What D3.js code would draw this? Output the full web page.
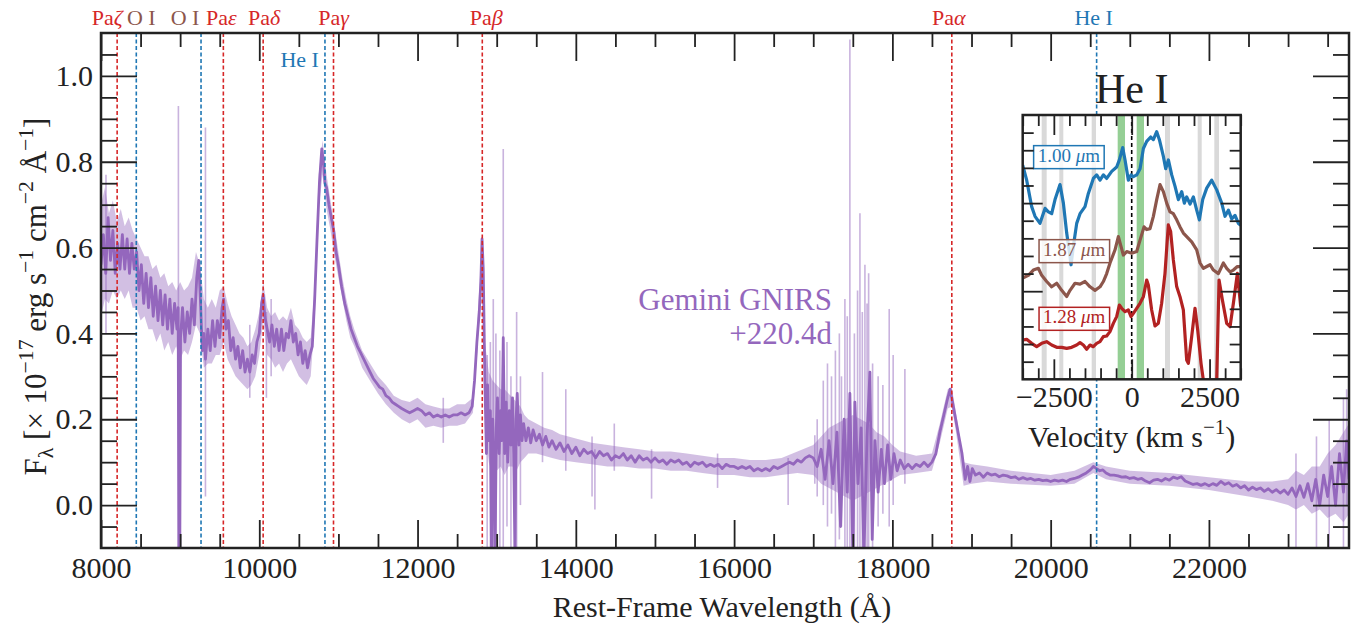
<!DOCTYPE html>
<html>
<head>
<meta charset="utf-8">
<script src="https://cdn.jsdelivr.net/npm/d3@7"></script>
<style>
body { margin: 0; background: #fff; }
svg { display: block; }
</style>
</head>
<body>
<div id="chart"></div>
<script>
// ---- main spectrum, binned (dark line): [wavelength Å, flux]
const binned = [
[8000,.56],[8030,.63],[8060,.54],[8090,.67],[8120,.57],[8150,.64],[8180,.54],[8210,.61],[8240,.55],[8270,.63],
[8300,.55],[8330,.62],[8360,.54],[8390,.61],[8420,.55],[8450,.59],[8480,.50],[8510,.56],[8540,.47],[8570,.54],
[8600,.46],[8630,.53],[8660,.44],[8690,.51],[8720,.43],[8750,.50],[8780,.42],[8810,.49],[8840,.41],[8870,.48],
[8900,.40],[8930,.47],[8960,.41],[8975,.46],[8985,-.15],[8995,-.15],[9005,.39],[9030,.46],[9060,.38],[9090,.45],
[9120,.40],[9150,.48],[9180,.42],[9210,.53],[9235,.57],[9260,.46],[9280,.36],[9300,.40],[9320,.34],[9350,.41],
[9380,.36],[9410,.43],[9440,.37],[9470,.43],[9500,.39],[9530,.46],[9550,.48],[9580,.41],[9610,.43],[9640,.36],
[9670,.39],[9700,.34],[9730,.37],[9760,.32],[9790,.36],[9820,.31],[9850,.34],[9880,.31],[9910,.35],[9940,.33],
[9970,.38],[10000,.40],[10030,.47],[10050,.49],[10070,.44],[10100,.41],[10130,.38],[10160,.42],[10190,.37],[10220,.41],
[10250,.36],[10280,.41],[10310,.36],[10340,.40],[10370,.39],[10400,.43],[10430,.38],[10460,.40],[10490,.35],[10520,.38],
[10550,.33],[10580,.36],[10610,.32],[10640,.35],[10670,.37],[10700,.48],[10730,.62],[10760,.75],[10790,.83],[10810,.80],
[10830,.75],[10850,.74],[10880,.70],[10910,.67],[10940,.64],[10970,.59],[11000,.56],[11040,.51],[11080,.47],[11120,.44],
[11160,.41],[11200,.39],[11240,.37],[11280,.355],[11320,.34],[11360,.325],[11400,.31],[11440,.295],[11480,.285],[11520,.275],
[11560,.27],[11600,.255],[11640,.25],[11680,.24],[11720,.235],[11760,.23],[11800,.225],[11850,.22],[11900,.215],[11950,.22],
[12000,.225],[12050,.22],[12100,.21],[12150,.215],[12200,.205],[12250,.21],[12300,.205],[12350,.21],[12400,.205],[12450,.21],
[12500,.21],[12550,.215],[12600,.21],[12650,.215],[12690,.23],[12720,.29],[12750,.38],[12780,.45],[12800,.52],[12815,.62],
[12830,.55],[12850,.30],[12870,.12],[12885,.28],[12900,.15],[12920,.22],[12935,-.12],[12950,.20],[12965,.10],[12980,-.12],
[12995,.18],[13010,.25],[13030,.12],[13050,.22],[13065,.15],[13083,.39],[13100,.12],[13120,.24],[13140,.10],[13160,.22],
[13180,.14],[13200,.25],[13215,.12],[13231,-.12],[13245,.20],[13260,.26],[13280,.14],[13300,.21],[13320,.15],[13340,.19],
[13370,.15],[13400,.18],[13430,.145],[13460,.175],[13500,.15],[13540,.165],[13580,.14],[13620,.16],[13660,.135],[13700,.15],
[13750,.13],[13800,.145],[13850,.125],[13900,.14],[13950,.12],[14000,.135],[14050,.115],[14100,.13],[14150,.12],[14200,.125],
[14250,.11],[14300,.125],[14350,.115],[14400,.12],[14450,.105],[14500,.115],[14550,.11],[14600,.12],[14650,.105],[14700,.115],
[14750,.10],[14800,.115],[14850,.105],[14900,.11],[14950,.10],[15000,.11],[15050,.10],[15100,.105],[15150,.095],[15200,.105],
[15250,.10],[15300,.105],[15350,.095],[15400,.10],[15450,.09],[15500,.10],[15550,.095],[15600,.10],[15650,.09],[15700,.095],
[15750,.09],[15800,.095],[15850,.085],[15900,.095],[15950,.09],[16000,.09],[16050,.085],[16100,.09],[16150,.085],[16200,.09],
[16250,.08],[16300,.085],[16350,.08],[16400,.085],[16450,.08],[16500,.09],[16550,.085],[16600,.09],[16650,.095],[16700,.10],
[16750,.095],[16800,.105],[16850,.10],[16900,.11],[16950,.115],[17000,.11],[17050,.09],[17100,.13],[17150,.06],[17200,.15],
[17250,.05],[17300,.17],[17345,-.05],[17390,.20],[17430,.03],[17463,.26],[17500,-.12],[17526,.24],[17565,.05],[17605,.18],
[17640,-.12],[17680,.16],[17716,.31],[17745,-.08],[17780,.15],[17820,.03],[17860,.13],[17900,.05],[17940,.14],[17980,.06],
[18020,.12],[18060,.08],[18100,.105],[18150,.085],[18200,.095],[18250,.085],[18300,.095],[18350,.09],[18400,.10],[18450,.09],
[18500,.10],[18550,.12],[18600,.17],[18650,.21],[18700,.25],[18730,.27],[18760,.24],[18800,.20],[18840,.16],[18880,.12],
[18920,.06],[18950,.09],[18980,.055],[19010,.085],[19050,.07],[19100,.075],[19150,.065],[19200,.075],[19250,.07],[19300,.072],
[19350,.066],[19400,.07],[19450,.068],[19500,.064],[19550,.066],[19600,.06],[19650,.064],[19700,.06],[19750,.062],[19800,.058],
[19850,.06],[19900,.057],[19950,.058],[20000,.055],[20050,.058],[20100,.056],[20150,.058],[20200,.055],[20250,.06],[20300,.062],
[20350,.065],[20400,.07],[20450,.075],[20500,.082],[20540,.09],[20580,.085],[20620,.08],[20660,.082],[20700,.075],[20750,.07],
[20800,.07],[20850,.068],[20900,.065],[20950,.066],[21000,.062],[21050,.064],[21100,.06],[21150,.062],[21200,.056],[21250,.052],
[21300,.058],[21350,.06],[21400,.056],[21450,.062],[21500,.058],[21550,.065],[21600,.062],[21650,.066],[21700,.056],[21750,.052],
[21800,.048],[21850,.05],[21900,.046],[21950,.05],[22000,.045],[22050,.05],[22100,.046],[22150,.055],[22200,.048],[22250,.052],
[22300,.044],[22350,.048],[22400,.04],[22450,.045],[22500,.035],[22550,.042],[22600,.036],[22650,.04],[22700,.032],[22750,.038],
[22800,.03],[22850,.036],[22900,.028],[22950,.035],[23000,.025],[23050,.04],[23100,.02],[23150,.045],[23200,.018],[23250,.05],
[23300,.01],[23350,.06],[23400,.0],[23450,.07],[23500,.02],[23550,.09],[23600,.0],[23650,.12],[23700,.03],[23740,.15],[23770,.06]
];

// ---- raw spectrum (light): [wavelength Å, low flux, high flux]
const raw = [
[8000,.44,.70],[8050,.48,.74],[8100,.47,.68],[8150,.50,.71],[8200,.48,.66],[8250,.50,.69],[8300,.48,.65],[8350,.50,.67],
[8400,.46,.64],[8450,.46,.62],[8500,.43,.60],[8550,.44,.58],[8600,.41,.58],[8650,.41,.55],[8700,.38,.56],[8750,.40,.53],
[8800,.36,.54],[8850,.38,.51],[8900,.35,.52],[8950,.37,.50],[9000,.34,.52],[9050,.36,.50],[9100,.35,.51],[9150,.38,.53],
[9200,.42,.59],[9250,.40,.56],[9300,.32,.48],[9350,.33,.46],[9400,.33,.48],[9450,.35,.46],[9500,.35,.50],[9550,.38,.51],
[9600,.34,.47],[9650,.32,.44],[9700,.30,.42],[9750,.29,.40],[9800,.28,.39],[9850,.27,.37],[9900,.28,.38],[9950,.30,.41],
[10000,.35,.45],[10050,.43,.52],[10100,.35,.46],[10150,.34,.44],[10200,.32,.45],[10250,.33,.43],[10300,.31,.44],[10350,.33,.43],
[10400,.34,.46],[10450,.32,.42],[10500,.30,.41],[10550,.29,.39],[10600,.28,.38],[10650,.30,.39],[10700,.43,.51],[10750,.69,.77],
[10800,.77,.85],[10850,.69,.77],[10900,.64,.71],[10950,.58,.65],[11000,.53,.59],[11050,.48,.53],[11100,.43,.48],[11150,.39,.44],
[11200,.37,.41],[11300,.32,.36],[11400,.29,.33],[11500,.26,.30],[11600,.235,.28],[11700,.215,.255],[11800,.20,.245],[11900,.19,.24],
[12000,.20,.25],[12100,.18,.235],[12200,.185,.23],[12300,.18,.225],[12400,.185,.225],[12500,.185,.235],[12600,.19,.235],[12700,.215,.25],
[12750,.34,.41],[12800,.49,.57],[12820,.56,.63],[12850,.18,.38],[12900,.10,.31],[12950,.07,.29],[13000,.08,.28],[13050,.09,.27],
[13100,.07,.27],[13150,.09,.26],[13200,.09,.25],[13250,.08,.24],[13300,.10,.23],[13350,.11,.21],[13400,.12,.20],[13500,.12,.19],
[13600,.115,.18],[13700,.11,.175],[13800,.105,.165],[14000,.10,.155],[14200,.095,.145],[14400,.09,.14],[14600,.09,.135],[14800,.085,.13],
[15000,.085,.125],[15200,.08,.125],[15400,.08,.12],[15600,.075,.115],[15800,.07,.11],[16000,.07,.11],[16200,.065,.105],[16400,.065,.105],
[16600,.07,.11],[16800,.075,.125],[17000,.07,.14],[17100,.05,.16],[17200,.04,.18],[17300,.03,.19],[17400,.02,.20],[17500,.01,.21],
[17600,.02,.20],[17700,.03,.19],[17800,.04,.17],[17900,.05,.16],[18000,.06,.14],[18100,.07,.125],[18300,.075,.115],[18500,.08,.12],
[18600,.145,.19],[18700,.225,.27],[18750,.23,.275],[18800,.175,.22],[18900,.045,.10],[19000,.05,.095],[19200,.055,.09],[19500,.05,.08],
[20000,.045,.07],[20300,.05,.08],[20540,.075,.10],[20700,.06,.09],[21000,.05,.08],[21500,.045,.075],[22000,.035,.065],[22500,.02,.055],
[22800,.01,.055],[23000,.0,.06],[23100,-.01,.08],[23200,.0,.07],[23300,-.02,.09],[23400,-.01,.09],[23500,-.03,.12],[23600,-.02,.14],
[23700,-.04,.17],[23770,-.02,.19]
];

// isolated spikes in the raw spectrum: [wavelength Å, low, high]
const spikes = [
[8063,.40,.77],[8978,-.12,.93],[9320,.02,.88],[9880,.25,.42],[10090,.25,.45],[10150,.30,.48],[12325,.145,.25],
[12880,-.1,.35],[12920,-.1,.38],[12957,-.1,.48],[12990,-.08,.40],[13040,-.1,.36],[13083,-.12,.83],[13130,-.05,.38],
[13180,-.1,.30],[13252,-.1,.45],[13300,.0,.30],[13579,.1,.31],[13873,.08,.27],[14205,.02,.16],[14241,-.01,.13],
[14486,.08,.19],[14957,.015,.13],[15791,.04,.12],[16683,.0,.11],[17020,.05,.163],[17050,.02,.20],[17127,.0,.29],
[17180,-.05,.33],[17231,-.02,.30],[17280,-.1,.36],[17330,-.08,.40],[17357,-.05,.30],[17400,-.1,.48],[17430,-.1,.44],
[17463,-.12,1.085],[17520,-.1,.40],[17560,-.1,.50],[17590,-.12,.68],[17620,-.1,.45],[17653,-.1,.56],[17680,-.1,.47],
[17700,-.12,.54],[17750,-.1,.33],[17820,-.05,.30],[17880,-.02,.28],[17960,-.05,.457],[18010,.0,.35],[18158,.05,.317],
[23100,-.1,.12],[23359,-.12,.16],[23520,-.12,.20],[23700,-.12,.25],[23740,.0,.27]
];

// line identifications
const lineNames = ["Pa|ζ", "O I", "O I", "Pa|ε", "Pa|δ", "He I", "Pa|γ", "Pa|β", "Pa|α", "He I"];
const lineWaves = [8204, 8446, 9264, 9546, 10049, 10830, 10938, 12818, 18751, 20581];
const lineKinds = ["pa", "oi", "oi", "pa", "pa", "he", "pa", "pa", "pa", "he"];

// main axis ticks
const xMajor = [8000, 10000, 12000, 14000, 16000, 18000, 20000, 22000];
const yMajor = [0.0, 0.2, 0.4, 0.6, 0.8, 1.0];

// ---- inset: He I velocity profiles [km/s, scaled flux]
const velBlue = [[-3500,2.43],[-3372,2.26],[-3212,1.96],[-3104,1.85],[-2944,1.77],[-2783,1.94],[-2676,1.90],[-2569,1.88],[-2462,2.04],[-2302,2.21],[-2194,2.00],[-2087,1.66],[-1980,1.39],[-1948,1.30],[-1873,1.51],[-1766,1.77],[-1659,1.88],[-1499,1.96],[-1392,2.11],[-1231,2.28],[-1124,2.32],[-1017,2.26],[-910,2.32],[-803,2.28],[-642,2.36],[-482,2.41],[-396,2.49],[-289,2.63],[-214,2.49],[-107,2.26],[-21,2.32],[54,2.30],[161,2.32],[268,2.39],[375,2.62],[482,2.70],[610,2.75],[696,2.72],[803,2.81],[889,2.72],[1017,2.53],[1092,2.39],[1178,2.49],[1285,2.32],[1392,2.19],[1499,2.04],[1606,2.13],[1691,2.00],[1766,2.07],[1873,1.99],[1980,2.07],[2087,1.92],[2173,1.81],[2280,2.04],[2409,2.17],[2569,2.26],[2730,2.15],[2890,2.00],[2997,1.85],[3104,1.92],[3212,1.82],[3318,1.86],[3425,1.77],[3500,1.75]];
const velBrown = [[-3500,1.15],[-3319,1.18],[-3158,1.24],[-2997,1.26],[-2890,1.18],[-2730,1.11],[-2569,1.05],[-2409,1.09],[-2248,1.01],[-2087,0.94],[-1980,1.01],[-1820,1.09],[-1659,1.08],[-1499,1.11],[-1338,1.05],[-1178,1.01],[-1017,1.05],[-910,1.11],[-803,1.20],[-696,1.32],[-535,1.47],[-428,1.62],[-353,1.52],[-268,1.41],[-161,1.45],[0,1.43],[161,1.45],[268,1.58],[396,1.73],[482,1.70],[589,1.71],[696,1.85],[803,2.04],[910,2.21],[1017,2.13],[1124,2.00],[1231,1.90],[1338,1.88],[1445,1.81],[1552,1.73],[1659,1.66],[1766,1.62],[1927,1.56],[2087,1.47],[2194,1.32],[2302,1.26],[2409,1.28],[2516,1.30],[2623,1.24],[2783,1.20],[2944,1.32],[3051,1.26],[3158,1.22],[3265,1.24],[3393,1.28],[3500,1.28]];
const velRed = [[-3500,0.446],[-3373,0.454],[-3213,0.408],[-3052,0.370],[-2891,0.408],[-2731,0.427],[-2570,0.389],[-2409,0.363],[-2249,0.363],[-2088,0.351],[-1928,0.363],[-1767,0.389],[-1660,0.416],[-1553,0.389],[-1446,0.340],[-1339,0.389],[-1232,0.370],[-1125,0.408],[-1018,0.427],[-911,0.484],[-804,0.492],[-697,0.541],[-590,0.635],[-483,0.711],[-397,0.843],[-322,0.806],[-215,0.768],[-108,0.787],[-22,0.711],[53,0.749],[160,0.806],[267,0.863],[374,0.938],[481,1.127],[534,1.070],[641,0.787],[748,0.605],[855,0.635],[962,0.863],[1069,1.203],[1176,1.752],[1251,1.676],[1337,1.355],[1444,1.052],[1551,0.938],[1658,0.787],[1765,0.219],[1819,0.181],[1926,0.484],[2033,0.806],[2119,0.560],[2226,0.181],[2301,-0.01],[2408,-0.27],[2622,-0.27],[2730,0.0],[2805,1.127],[2912,0.900],[3051,0.635],[3158,0.597],[3265,0.863],[3394,1.203],[3500,0.825]];
const insetLabels = ["1.00 |μ|m", "1.87 |μ|m", "1.28 |μ|m"];
const grayBands = [[-2890,-2730],[-2325,-2196],[-1285,-1146],[1070,1230],[2119,2248],[2653,2804]];
const greenBands = [[-450,-215],[160,395]];

// ---------------------------------------------------------------
const W = 1369, H = 631;
const serif = "'Liberation Serif', 'Times New Roman', serif";
const purple = "#9467bd";
const kindColor = {pa: "#d62728", oi: "#8c564b", he: "#1f77b4"};
const lineColor = {pa: "#d62728", oi: "#1f77b4", he: "#1f77b4"};

const svg = d3.select("#chart").append("svg")
    .attr("width", W)
    .attr("height", H)
    .attr("font-family", serif);

const x = d3.scaleLinear().domain([8000, 23770]).range([101, 1349]);
const y = d3.scaleLinear().domain([-0.1, 1.1]).range([548, 33]);

const defs = svg.append("defs");
defs.append("clipPath").attr("id", "clipMain")
    .append("rect")
    .attr("x", x.range()[0]).attr("y", y.range()[1])
    .attr("width", x.range()[1] - x.range()[0])
    .attr("height", y.range()[0] - y.range()[1]);

const plot = svg.append("g").attr("clip-path", "url(#clipMain)");

// raw spectrum band
plot.append("path")
    .datum(raw)
    .attr("fill", purple)
    .attr("fill-opacity", 0.42)
    .attr("d", d3.area().x(d => x(d[0])).y0(d => y(d[1])).y1(d => y(d[2])));

plot.append("g")
    .selectAll("line")
    .data(spikes)
    .join("line")
    .attr("x1", d => x(d[0])).attr("x2", d => x(d[0]))
    .attr("y1", d => y(d[1])).attr("y2", d => y(d[2]))
    .attr("stroke", purple)
    .attr("stroke-opacity", 0.5)
    .attr("stroke-width", 1.6);

// binned spectrum
plot.append("path")
    .datum(binned)
    .attr("fill", "none")
    .attr("stroke", purple)
    .attr("stroke-width", 2.8)
    .attr("stroke-linejoin", "round")
    .attr("d", d3.line().x(d => x(d[0])).y(d => y(d[1])));

// line markers
svg.append("g")
    .selectAll("line")
    .data(lineWaves)
    .join("line")
    .attr("x1", d => x(d)).attr("x2", d => x(d))
    .attr("y1", y.range()[1]).attr("y2", y.range()[0])
    .attr("stroke", (d, i) => lineColor[lineKinds[i]])
    .attr("stroke-width", 1.6)
    .attr("stroke-dasharray", "4,2.5");

// rich text helpers: "|" splits plain / italic pieces
function italicText(t, str) {
    str.split("|").forEach((s, i) => {
        const ts = t.append("tspan").text(s);
        if (i % 2 === 1) ts.attr("font-style", "italic");
    });
}
function richText(t, parts, size) {
    let shift = 0;
    parts.forEach(([s, m]) => {
        const target = m === "sup" ? -0.42 * size : m === "sub" ? 0.22 * size : 0;
        const ts = t.append("tspan").attr("dy", target - shift).text(s);
        shift = target;
        if (m === "sup" || m === "sub") ts.attr("font-size", size * 0.7);
    });
}

// line labels above the frame
const labelShift = [-10, 5, -16, -2, 1, 0, 0, 4, -3, -3];
lineNames.forEach((name, i) => {
    const inner = i === 5;
    const t = svg.append("text")
        .attr("x", inner ? x(lineWaves[i]) - 6 : x(lineWaves[i]) + labelShift[i])
        .attr("y", inner ? 67 : 25)
        .attr("text-anchor", inner ? "end" : "middle")
        .attr("font-size", 22)
        .attr("fill", kindColor[lineKinds[i]]);
    italicText(t, name);
});

// axes with inward ticks
function tickAxis(axisFn, scale, values, size, tx, ty, fmt, pad) {
    const a = axisFn(scale).tickValues(values).tickSizeInner(-size).tickSizeOuter(0);
    if (fmt) a.tickFormat(fmt).tickPadding(pad); else a.tickFormat("");
    const g = svg.append("g").attr("transform", `translate(${tx},${ty})`).call(a);
    g.select(".domain").remove();
    g.selectAll(".tick line").attr("stroke", "#222").attr("stroke-width", 1.8);
    g.attr("font-family", serif).attr("font-size", 30);
    g.selectAll(".tick text").attr("fill", "#222");
    return g;
}

const xMinor = d3.range(8500, 23770, 500).filter(v => v % 2000 !== 0);
const yMinor = d3.range(-1, 22).filter(i => i % 4 !== 0).map(i => i * 0.05);
const [px0, px1] = x.range();
const [py0, py1] = y.range();

tickAxis(d3.axisBottom, x, xMajor, 28, 0, py0, d3.format("d"), 8.5);
tickAxis(d3.axisBottom, x, xMinor, 14, 0, py0);
tickAxis(d3.axisTop, x, xMajor, 28, 0, py1);
tickAxis(d3.axisTop, x, xMinor, 14, 0, py1);
tickAxis(d3.axisLeft, y, yMajor, 36, px0, 0, d3.format(".1f"), 8);
tickAxis(d3.axisLeft, y, yMinor, 16, px0, 0);
tickAxis(d3.axisRight, y, yMajor, 36, px1, 0);
tickAxis(d3.axisRight, y, yMinor, 16, px1, 0);

svg.append("rect")
    .attr("x", px0).attr("y", py1)
    .attr("width", px1 - px0).attr("height", py0 - py1)
    .attr("fill", "none")
    .attr("stroke", "#222")
    .attr("stroke-width", 2.5);

// axis titles
svg.append("text")
    .attr("x", (px0 + px1) / 2 - 3)
    .attr("y", 617)
    .attr("text-anchor", "middle")
    .attr("font-size", 30)
    .attr("fill", "#222")
    .text("Rest-Frame Wavelength (Å)");

const yl = svg.append("text")
    .attr("transform", `translate(46,${(py0 + py1) / 2 + 6}) rotate(-90)`)
    .attr("text-anchor", "middle")
    .attr("font-size", 31)
    .attr("fill", "#222");
richText(yl, [["F", "n"], ["λ", "sub"], [" [× 10", "n"], ["−17", "sup"], [" erg s", "n"], ["−1", "sup"],
    [" cm", "n"], ["−2", "sup"], [" Å", "n"], ["−1", "sup"], ["]", "n"]], 31);

// instrument label
svg.append("text")
    .attr("x", 832).attr("y", 310)
    .attr("text-anchor", "end")
    .attr("font-size", 31)
    .attr("fill", purple)
    .text("Gemini GNIRS");
svg.append("text")
    .attr("x", 832).attr("y", 344)
    .attr("text-anchor", "end")
    .attr("font-size", 31)
    .attr("fill", purple)
    .text("+220.4d");

// ---------------- inset ----------------
const xi = d3.scaleLinear().domain([-3500, 3500]).range([1022.7, 1240.7]);
const yi = d3.scaleLinear().domain([0, 3]).range([379.3, 115]);
const [ix0, ix1] = xi.range();
const [iy0, iy1] = yi.range();

defs.append("clipPath").attr("id", "clipInset")
    .append("rect")
    .attr("x", ix0).attr("y", iy1)
    .attr("width", ix1 - ix0).attr("height", iy0 - iy1);

svg.append("rect")
    .attr("x", ix0).attr("y", iy1)
    .attr("width", ix1 - ix0).attr("height", iy0 - iy1)
    .attr("fill", "#fff");

const inset = svg.append("g").attr("clip-path", "url(#clipInset)");

inset.selectAll(".gray")
    .data(grayBands)
    .join("rect")
    .attr("class", "gray")
    .attr("x", d => xi(d[0])).attr("width", d => xi(d[1]) - xi(d[0]))
    .attr("y", iy1).attr("height", iy0 - iy1)
    .attr("fill", "#d9d9d9");

inset.selectAll(".green")
    .data(greenBands)
    .join("rect")
    .attr("class", "green")
    .attr("x", d => xi(d[0])).attr("width", d => xi(d[1]) - xi(d[0]))
    .attr("y", iy1).attr("height", iy0 - iy1)
    .attr("fill", "#2ca02c")
    .attr("fill-opacity", 0.5);

inset.append("line")
    .attr("x1", xi(0)).attr("x2", xi(0))
    .attr("y1", iy1).attr("y2", iy0)
    .attr("stroke", "#000")
    .attr("stroke-width", 1.6)
    .attr("stroke-dasharray", "4,3");

const profiles = [velBlue, velBrown, velRed];
const profileColors = ["#1f77b4", "#8c564b", "#b22222"];
const vline = d3.line().x(d => xi(d[0])).y(d => yi(d[1]));
profiles.forEach((p, i) => {
    inset.append("path")
        .datum(p)
        .attr("fill", "none")
        .attr("stroke", profileColors[i])
        .attr("stroke-width", 3.2)
        .attr("stroke-linejoin", "round")
        .attr("d", vline);
});

// boxed labels for each profile (centre in data units)
const labelAt = [[-2020, 2.546], [-1846, 1.479], [-1846, 0.711]];
insetLabels.forEach((lab, i) => {
    const g = svg.append("g");
    const r = g.append("rect");
    const t = g.append("text")
        .attr("x", xi(labelAt[i][0]))
        .attr("y", yi(labelAt[i][1]))
        .attr("dy", "0.35em")
        .attr("text-anchor", "middle")
        .attr("font-size", 19)
        .attr("fill", profileColors[i]);
    italicText(t, lab);
    const b = t.node().getBBox();
    r.attr("x", b.x - 4).attr("y", b.y + 1)
        .attr("width", b.width + 8).attr("height", b.height + 2)
        .attr("fill", "#fff").attr("fill-opacity", 0.8)
        .attr("stroke", profileColors[i]).attr("stroke-width", 1.5);
});

const viMajor = [-2500, 0, 2500];
const viMinor = d3.range(-3500, 3501, 500).filter(v => v % 2500 !== 0);
const fiMajor = [1, 2];
const fiMinor = d3.range(1, 15).filter(i => i % 5 !== 0).map(i => i * 0.2);

tickAxis(d3.axisBottom, xi, viMajor, 20, 0, iy0, d3.format("d"), 6);
tickAxis(d3.axisBottom, xi, viMinor, 11, 0, iy0);
tickAxis(d3.axisTop, xi, viMajor, 20, 0, iy1);
tickAxis(d3.axisTop, xi, viMinor, 11, 0, iy1);
tickAxis(d3.axisLeft, yi, fiMajor, 20, ix0, 0);
tickAxis(d3.axisLeft, yi, fiMinor, 11, ix0, 0);
tickAxis(d3.axisRight, yi, fiMajor, 20, ix1, 0);
tickAxis(d3.axisRight, yi, fiMinor, 11, ix1, 0);

svg.append("rect")
    .attr("x", ix0).attr("y", iy1)
    .attr("width", ix1 - ix0).attr("height", iy0 - iy1)
    .attr("fill", "none")
    .attr("stroke", "#222")
    .attr("stroke-width", 2.5);

svg.append("text")
    .attr("x", (ix0 + ix1) / 2)
    .attr("y", 103)
    .attr("text-anchor", "middle")
    .attr("font-size", 42)
    .attr("fill", "#222")
    .text("He I");

const vl = svg.append("text")
    .attr("x", (ix0 + ix1) / 2)
    .attr("y", 446.7)
    .attr("text-anchor", "middle")
    .attr("font-size", 30)
    .attr("fill", "#222");
richText(vl, [["Velocity (km s", "n"], ["−1", "sup"], [")", "n"]], 30);
</script>
</body>
</html>
